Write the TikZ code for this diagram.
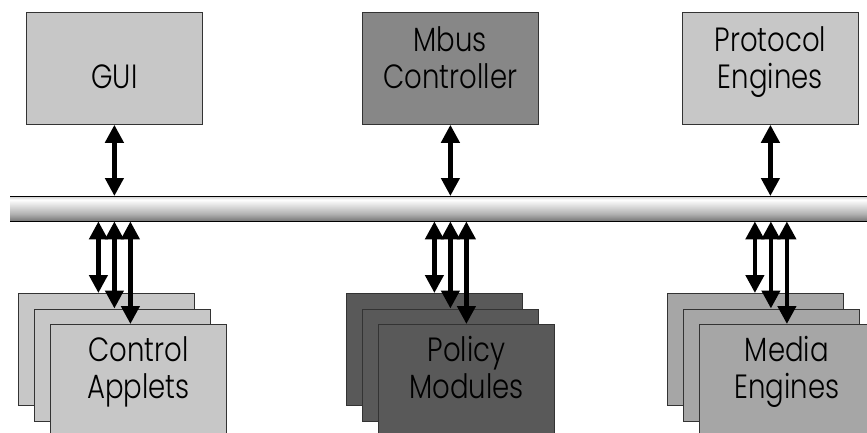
\documentclass[tikz,border=0pt]{standalone}
\usepackage{fontspec}
\setmainfont{Poppins}[UprightFont={* Light},FakeStretch=0.82]
\usetikzlibrary{arrows.meta}
\pgfdeclareverticalshading{busshade}{100bp}{color(0bp)=(black); color(12bp)=(black!75); color(40bp)=(black!30); color(68bp)=(white); color(84bp)=(black!45); color(100bp)=(black)}
\definecolor{lightbox}{gray}{0.78}
\definecolor{midbox}{gray}{0.53}
\definecolor{darkbox}{gray}{0.35}
\definecolor{mediabox}{gray}{0.65}

\begin{document}
\begin{tikzpicture}[
	x=1pt, y=-1pt,
	>={Triangle[width=18pt,length=18pt]},
	box/.style={
		draw=black!80, line width=0.8pt,
		minimum width=176pt, minimum height=112pt,
		inner sep=0pt, anchor=north west
	},
	link/.style={<->, line width=4.3pt},
	label text/.style={font=\fontsize{33.6}{36.5}\selectfont, align=center, anchor=base}
	]
	\useasboundingbox (0,0) rectangle (867,432);
	\clip (0,0) rectangle (867,432);
	
	% message bus
	\node[shading=busshade, minimum width=870pt, minimum height=25pt, inner sep=0pt, anchor=north west] (bus) at (10,196) {};
	\draw (bus.north west) -- (bus.north east) (bus.south west) -- (bus.south east);
	
	% upper row
	\node[box, fill=lightbox] (gui) at (26,12) {};
	\node[label text] (gui text) at ([yshift=-76pt]gui.north) {GUI};
	
	\node[box, fill=midbox] (mbus) at (362,12) {};
	\node[label text] (mbus text) at ([yshift=-76.3pt]mbus.north) {Mbus\\Controller};
	
	\node[box, fill=lightbox] (proto) at (682,12) {};
	\node[label text] (proto text) at ([yshift=-76.3pt]proto.north) {Protocol\\Engines};
	
	\draw[link] (gui.south) -- (gui.south |- bus.north);
	\draw[link] (mbus.south) -- (mbus.south |- bus.north);
	\draw[link] (proto.south) -- (proto.south |- bus.north);
	
	% lower row, three stacks
	\node[box, fill=lightbox] (ca1) at (18,293) {};
	\node[box, fill=lightbox] (ca2) at (34,308.5) {};
	\node[box, fill=lightbox] (ca3) at (50,324) {};
	\node[label text] (ca text) at ([yshift=-74pt]ca3.north) {Control\\Applets};
	
	\node[box, fill=darkbox] (pm1) at (346,293) {};
	\node[box, fill=darkbox] (pm2) at (362,308.5) {};
	\node[box, fill=darkbox] (pm3) at (378,324) {};
	\node[label text] (pm text) at ([yshift=-74pt]pm3.north) {Policy\\Modules};
	
	\node[box, fill=mediabox] (me1) at (666.5,293) {};
	\node[box, fill=mediabox] (me2) at (682.5,308.5) {};
	\node[box, fill=mediabox] (me3) at (698.5,324) {};
	\node[label text] (me text) at ([yshift=-74pt]me3.north) {Media\\Engines};
	
	\draw[link] ([xshift=-8pt]ca1.north |- bus.south) -- ([xshift=-8pt]ca1.north);
	\draw[link] ([xshift=-8pt]ca2.north |- bus.south) -- ([xshift=-8pt]ca2.north);
	\draw[link] ([xshift=-8pt]ca3.north |- bus.south) -- ([xshift=-8pt]ca3.north);
	
	\draw[link] (pm1.north |- bus.south) -- (pm1.north);
	\draw[link] (pm2.north |- bus.south) -- (pm2.north);
	\draw[link] (pm3.north |- bus.south) -- (pm3.north);
	
	\draw[link] (me1.north |- bus.south) -- (me1.north);
	\draw[link] (me2.north |- bus.south) -- (me2.north);
	\draw[link] (me3.north |- bus.south) -- (me3.north);
	
\end{tikzpicture}
\end{document}
